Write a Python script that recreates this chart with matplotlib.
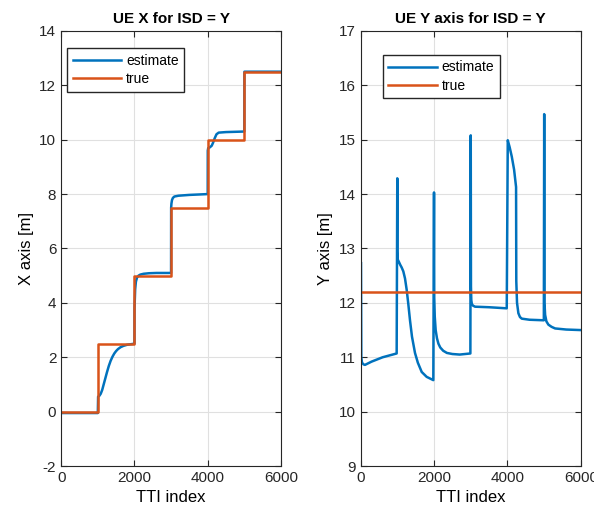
import matplotlib.pyplot as plt

plt.rcParams['font.family'] = ['Liberation Sans', 'DejaVu Sans']
plt.rcParams['axes.unicode_minus'] = False

# Left panel: UE X position
x_est_tti = [0, 1000, 1008, 1040, 1080, 1120, 1160, 1200, 1250, 1300, 1350, 1400, 1450,
             1500, 1550, 1620, 1700, 1800, 1900, 2000,
             2002, 2020, 2040, 2070, 2110, 2160, 2250, 2400, 2600, 3000,
             3002, 3010, 3025, 3050, 3090, 3200, 3500, 4000,
             4002, 4014, 4060, 4110, 4150, 4190, 4240, 4300, 4500, 5000,
             5002, 6000]
x_est = [-0.05, -0.05, 0.55, 0.58, 0.66, 0.8, 1.0, 1.2, 1.45, 1.68, 1.87, 2.02, 2.14,
         2.23, 2.3, 2.37, 2.42, 2.46, 2.48, 2.5,
         3.8, 4.5, 4.78, 4.93, 5.0, 5.04, 5.07, 5.09, 5.1, 5.1,
         7.5, 7.65, 7.78, 7.86, 7.91, 7.94, 7.97, 8.0,
         9.6, 9.69, 9.72, 9.78, 9.9, 10.05, 10.2, 10.26, 10.28, 10.3,
         12.5, 12.5]
x_true_tti = [0, 1000, 1000, 2000, 2000, 3000, 3000, 4000, 4000, 5000, 5000, 6000]
x_true = [0, 0, 2.5, 2.5, 5, 5, 7.5, 7.5, 10, 10, 12.5, 12.5]

# Right panel: UE Y position
y_est_tti = [12, 20, 40, 80, 120, 300, 600, 983,
             1000, 1003, 1010, 1040, 1080, 1120, 1164, 1210, 1256, 1300, 1346, 1400,
             1482, 1560, 1665, 1800, 1981,
             2000, 2006, 2020, 2045, 2080, 2120, 2170, 2250, 2350, 2500, 2700, 2990,
             3000, 3006, 3015, 3030, 3060, 3117, 3500, 3980,
             4008, 4060, 4117, 4180, 4234, 4240, 4260, 4297, 4340, 4390, 4600, 4990,
             5000, 5008, 5025, 5060, 5114, 5200, 5297, 5600, 6000]
y_est = [12.73, 11.0, 10.9, 10.87, 10.86, 10.92, 11.0, 11.07,
         14.29, 12.95, 12.8, 12.76, 12.7, 12.65, 12.58, 12.45, 12.24, 11.98, 11.68, 11.38,
         11.08, 10.9, 10.73, 10.64, 10.58,
         14.03, 12.1, 11.75, 11.5, 11.35, 11.25, 11.18, 11.12, 11.08, 11.06, 11.05, 11.07,
         15.08, 12.3, 12.05, 11.98, 11.95, 11.93, 11.92, 11.9,
         14.99, 14.86, 14.69, 14.45, 14.13, 12.4, 12.0, 11.81, 11.74, 11.71, 11.69, 11.68,
         15.47, 12.0, 11.78, 11.66, 11.6, 11.56, 11.53, 11.51, 11.5]
y_true_tti = [0, 6000]
y_true = [12.2, 12.2]

blue = '#0072BD'
orange = '#D95319'

fig = plt.figure(figsize=(5.94, 5.15), dpi=100)
ax1 = fig.add_axes([0.103, 0.095, 0.370, 0.845])
ax2 = fig.add_axes([0.607, 0.095, 0.371, 0.845])

legend_kw = dict(fontsize=10, fancybox=False, edgecolor='#262626', framealpha=1,
                 borderpad=0.4, handlelength=3.5, handletextpad=0.35,
                 labelspacing=0.3, borderaxespad=0)

ax1.plot(x_est_tti, x_est, color=blue, linewidth=1.8, label='estimate')
ax1.plot(x_true_tti, x_true, color=orange, linewidth=1.8, label='true')
ax1.set_xlim(0, 6000)
ax1.set_ylim(-2, 14)
ax1.set_yticks(range(-2, 15, 2))
ax1.set_xticks([0, 2000, 4000, 6000])
ax1.set_title('UE X for ISD = Y', fontsize=11, fontweight='bold')
ax1.set_xlabel('TTI index', fontsize=12)
ax1.set_ylabel('X axis [m]', fontsize=12)
ax1.legend(loc='upper left', bbox_to_anchor=(0.027, 0.96), **legend_kw)

ax2.plot(y_est_tti, y_est, color=blue, linewidth=1.8, label='estimate')
ax2.plot(y_true_tti, y_true, color=orange, linewidth=1.8, label='true')
ax2.set_xlim(0, 6000)
ax2.set_ylim(9, 17)
ax2.set_yticks(range(9, 18))
ax2.set_xticks([0, 2000, 4000, 6000])
ax2.set_title('UE Y axis for ISD = Y', fontsize=11, fontweight='bold')
ax2.set_xlabel('TTI index', fontsize=12)
ax2.set_ylabel('Y axis [m]', fontsize=12)
ax2.legend(loc='upper left', bbox_to_anchor=(0.1, 0.945), **legend_kw)

for ax in (ax1, ax2):
    ax.grid(True, color='#e0e0e0', linewidth=0.8)
    ax.set_axisbelow(True)
    ax.tick_params(direction='in', top=True, right=True, labelsize=11,
                   colors='#262626', length=4)
    for s in ax.spines.values():
        s.set_color('#262626')
        s.set_linewidth(0.8)

fig.savefig('out.png', dpi=100)
